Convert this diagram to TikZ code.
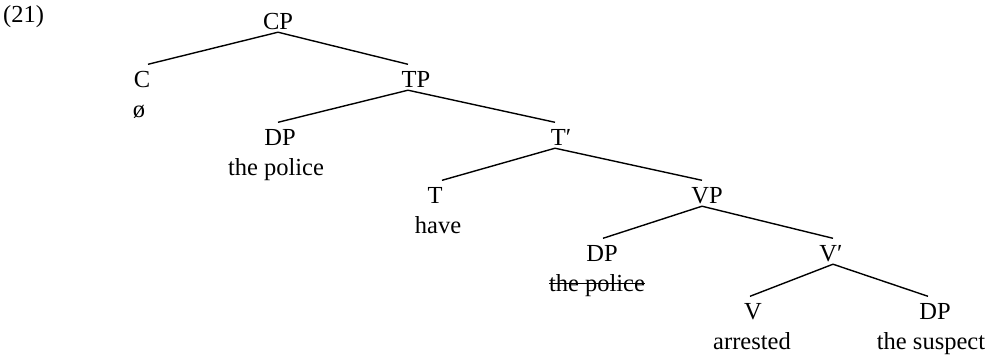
\documentclass[tikz,border=0pt]{standalone}
\usepackage{fontspec}
\setmainfont{Liberation Serif}
\begin{document}
\begin{tikzpicture}[x=1bp,y=-1bp,
  every node/.style={font=\fontsize{24.5bp}{28bp}\selectfont},
  cat/.style={anchor=base,inner sep=0pt,text height=22.5bp,text depth=3bp},
  lex/.style={anchor=base,inner sep=0pt},
  branch/.style={line width=1.4bp}]
\useasboundingbox (0,0) rectangle (993,355);
\node[lex,anchor=base west] (ex) at (3,22) {(21)};
\node[cat] (cp) at (278,29) {CP};
\node[cat] (c) at (142,87) {C};
\node[lex] (cnull) at (139,117) {ø};
\node[cat] (tp) at (416,87) {TP};
\node[cat] (dp1) at (280,145) {DP};
\node[lex] (dp1w) at (276,175) {the police};
\node[cat] (tbar) at (561,145) {T′};
\node[cat] (t) at (435,203) {T};
\node[lex] (tw) at (438,233) {have};
\node[cat] (vp) at (707,203) {VP};
\node[cat] (dp2) at (602,261) {DP};
\node[lex] (dp2w) at (597,291) {the police};
\node[cat] (vbar) at (831,261) {V′};
\node[cat] (v) at (753,319) {V};
\node[lex] (vw) at (752,349) {arrested};
\node[cat] (dp3) at (935,319) {DP};
\node[lex] (dp3w) at (931,349) {the suspect};
\draw[branch] (cp.south) -- ([xshift=6bp]c.north);
\draw[branch] (cp.south) -- ([xshift=-8bp]tp.north);
\draw[branch] ([xshift=-8bp]tp.south) -- ([xshift=-2bp]dp1.north);
\draw[branch] ([xshift=-8bp]tp.south) -- ([xshift=-6bp]tbar.north);
\draw[branch] ([xshift=-6bp]tbar.south) -- ([xshift=7bp]t.north);
\draw[branch] ([xshift=-6bp]tbar.south) -- ([xshift=-5bp]vp.north);
\draw[branch] ([xshift=-5bp]vp.south) -- ([xshift=1bp]dp2.north);
\draw[branch] ([xshift=-5bp]vp.south) -- ([xshift=2bp]vbar.north);
\draw[branch] ([xshift=2bp]vbar.south) -- ([xshift=-3bp]v.north);
\draw[branch] ([xshift=2bp]vbar.south) -- ([xshift=-7bp]dp3.north);
\draw[line width=1.3bp] ([yshift=7.5bp]dp2w.base west) -- ([yshift=7.5bp]dp2w.base east);
\end{tikzpicture}
\end{document}
